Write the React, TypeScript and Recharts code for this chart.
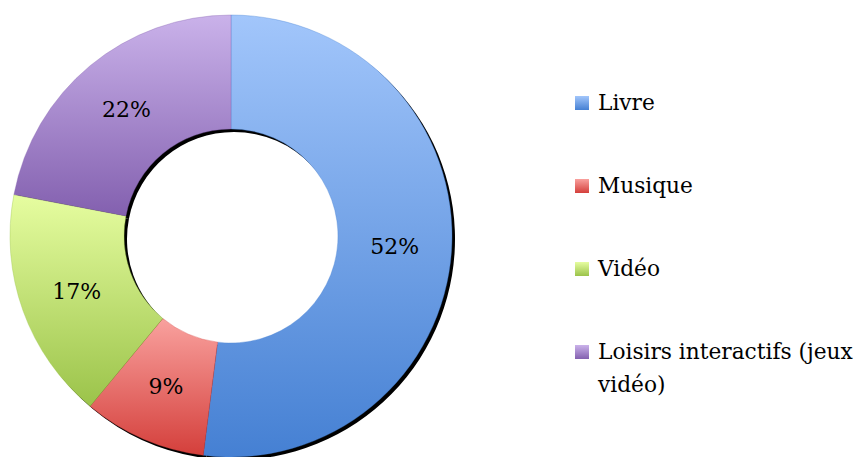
import React from 'react';
import { PieChart, Pie, Cell, Legend } from 'recharts';

const categories = ['Livre', 'Musique', 'Vidéo', 'Loisirs interactifs (jeux vidéo)'];
const shares = [52, 9, 17, 22];
const topColors = ['#a2c6fb', '#f9a19e', '#e6fda0', '#cab2ea'];
const bottomColors = ['#4580d3', '#d43f3b', '#9bc34a', '#8360af'];

const data = categories.map((name, i) => ({ name, value: shares[i] }));

const FONT = '"DejaVu Serif", serif';
const RAD = Math.PI / 180;

const renderLabel = (props: any) => {
  const { cx, cy, midAngle, innerRadius, outerRadius, value } = props;
  const r = (innerRadius + outerRadius) / 2;
  const x = cx + r * Math.cos(-midAngle * RAD);
  const y = cy + r * Math.sin(-midAngle * RAD);
  return (
    <text x={x} y={y} fill="#000" textAnchor="middle" dominantBaseline="central"
      style={{ fontFamily: FONT, fontSize: 22 }}>
      {`${value}%`}
    </text>
  );
};

const LegendBox = () => (
  <div style={{ fontFamily: FONT, fontSize: 21.7, color: '#000', width: 280 }}>
    {categories.map((c, i) => (
      <div key={c} style={{ display: 'flex', alignItems: 'flex-start', marginBottom: i < 3 ? 50 : 0, lineHeight: '33px' }}>
        <span style={{
          display: 'inline-block', width: 14, height: 14, marginTop: 10, marginRight: 9, flexShrink: 0,
          background: `linear-gradient(${topColors[i]}, ${bottomColors[i]})`
        }} />
        <span>{c}</span>
      </div>
    ))}
  </div>
);

export default function App() {
  return (
    <div style={{ position: 'absolute', left: 0, top: 0, width: 856, height: 457, background: '#fff' }}>
      <PieChart width={856} height={457} margin={{ top: 0, right: 0, bottom: 0, left: 0 }}>
        <defs>
          {topColors.map((t, i) => (
            <linearGradient key={i} id={`g${i}`} x1="0" y1="0" x2="0" y2="1">
              <stop offset="0%" stopColor={t} />
              <stop offset="100%" stopColor={bottomColors[i]} />
            </linearGradient>
          ))}
        </defs>
        {/* shadow */}
        <Pie data={data} dataKey="value" cx={234} cy={239} innerRadius={107} outerRadius={221}
          startAngle={90} endAngle={-270} fill="#000" stroke="none" isAnimationActive={false}
          legendType="none" />
        <Pie data={data} dataKey="value" cx={231} cy={236} innerRadius={107} outerRadius={221}
          startAngle={90} endAngle={-270} isAnimationActive={false} label={renderLabel} labelLine={false}>
          {data.map((d, i) => (
            <Cell key={d.name} fill={`url(#g${i})`} stroke={bottomColors[i]} strokeWidth={0.6} strokeOpacity={0.6} />
          ))}
        </Pie>
        <Legend content={<LegendBox />} wrapperStyle={{ left: 575, top: 86, width: 281 }} />
      </PieChart>
    </div>
  );
}
